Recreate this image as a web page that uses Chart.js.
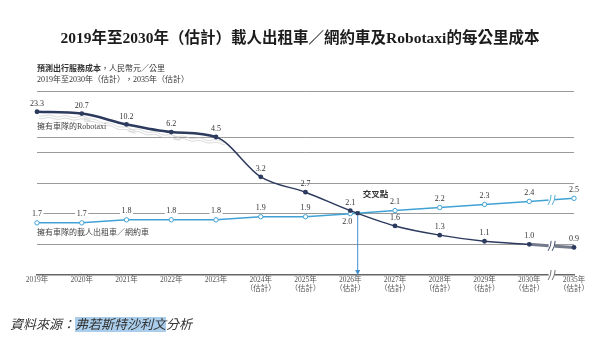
<!DOCTYPE html>
<html>
<head>
<meta charset="utf-8">
<script src="https://cdn.jsdelivr.net/npm/chart.js@4.4.0/dist/chart.umd.min.js"></script>
<style>
body{margin:0;width:600px;height:341px;position:relative;background:#fff;overflow:hidden;font-family:"Liberation Serif","Noto Sans CJK TC",serif;color:#222}
#c{position:absolute;left:0;top:0}
.t{position:absolute;white-space:nowrap;z-index:2}
#title{left:0;width:600px;text-align:center;top:29px;font-size:15.5px;line-height:18px;font-weight:bold;color:#1c1c1c}
#sub1{left:37px;top:64px;font-size:8px;line-height:10px;color:#333}
#sub2{left:37px;top:75px;font-size:8px;line-height:10px;color:#333}
.lab{font-size:8px;line-height:10px;color:#444}
#src{left:10px;top:316px;font-size:13px;line-height:18px;font-style:italic;color:#333}
#src span{background:#a9cdea}
</style>
</head>
<body>
<canvas id="c" width="600" height="341"></canvas>
<div class="t" id="title">2019年至2030年（估計）載人出租車／網約車及Robotaxi的每公里成本</div>
<div class="t" id="sub1"><b>預測出行服務成本</b>，人民幣元／公里</div>
<div class="t" id="sub2">2019年至2030年（估計），2035年（估計）</div>
<div class="t lab" style="left:37px;top:122px">擁有車隊的Robotaxi</div>
<div class="t lab" style="left:37px;top:228px">擁有車隊的載人出租車／網約車</div>
<div class="t" id="src">資料來源：<span>弗若斯特沙利文</span>分析</div>
<script>
const years = ['2019年','2020年','2021年','2022年','2023年',
  ['2024年','（估計）'],['2025年','（估計）'],['2026年','（估計）'],['2027年','（估計）'],
  ['2028年','（估計）'],['2029年','（估計）'],['2030年','（估計）'],['2035年','（估計）']];
const robotaxi = [23.3,20.7,10.2,6.2,4.5,3.2,2.7,2.1,1.6,1.3,1.1,1.0,0.9];
const taxi = [1.7,1.7,1.8,1.8,1.8,1.9,1.9,2.0,2.1,2.2,2.3,2.4,2.5];
const gridValues = [1,2,3,4,4.5,90];

const NAVY='#2c3a5e', BLUE='#41a3d5';
// broken axis: linear up to BREAK, log-compressed above
const BREAK=4.5, LOW=0.75;
class BrokenScale extends Chart.LinearScale{
  getPixelForValue(v){
    const h=this.bottom-this.top;
    const f = v<=BREAK ? LOW*v/BREAK : LOW+(1-LOW)*Math.log(v/BREAK)/Math.log(this.max/BREAK);
    return this.bottom-f*h;
  }
  getValueForPixel(p){
    const f=(this.bottom-p)/(this.bottom-this.top);
    return f<=LOW ? f/LOW*BREAK : BREAK*Math.exp((f-LOW)/(1-LOW)*Math.log(this.max/BREAK));
  }
}
BrokenScale.id='broken';
BrokenScale.defaults=Chart.LinearScale.defaults;
Chart.register(BrokenScale);

function lineY(a,b,x){ return a.y+(b.y-a.y)*(x-a.x)/(b.x-a.x); }
function brk(ctx,x,y,col){
  ctx.save();
  ctx.fillStyle='#fff'; ctx.fillRect(x-3,y-6,6,12);
  ctx.strokeStyle=col; ctx.lineWidth=0.9;
  [-2,2].forEach(d=>{ctx.beginPath();ctx.moveTo(x+d-1.5,y+5);ctx.quadraticCurveTo(x+d+1.5,y,x+d+1.5,y-5);ctx.stroke();});
  ctx.restore();
}
function label(ctx,txt,x,y,bg){
  ctx.font='8px "Liberation Serif"';
  const w=ctx.measureText(txt).width;
  if(bg){ctx.fillStyle='#fff';ctx.fillRect(x-w/2-1.5,y-4.5,w+3,9);}
  ctx.fillStyle='#333';ctx.textAlign='center';ctx.textBaseline='middle';
  ctx.fillText(txt,x,y);
}

const decor={
  id:'decor',
  beforeDatasetsDraw(chart){
    const ctx=chart.ctx, pts=chart.getDatasetMeta(0).data;
    ctx.save(); ctx.strokeStyle='#c4c4c4'; ctx.lineWidth=0.7;
    for(let i=0;i<4;i++){
      const a=pts[i], b=pts[i+1];
      [3.5,6].forEach(off=>{
        ctx.beginPath();
        for(let x=a.x+2;x<=b.x+9;x+=0.5){
          const y=lineY(a,b,x)+off+Math.sin((x-a.x)/2.6)*0.8;
          x===a.x+2?ctx.moveTo(x,y):ctx.lineTo(x,y);
        }
        ctx.stroke();
      });
    }
    ctx.restore();
  },
  afterDatasetsDraw(chart){
    const ctx=chart.ctx, ca=chart.chartArea;
    const r=chart.getDatasetMeta(0).data, t=chart.getDatasetMeta(1).data;
    const n=r.length, xm=(r[n-2].x+r[n-1].x)/2;
    brk(ctx,xm,lineY(t[n-2],t[n-1],xm),BLUE);
    brk(ctx,xm,lineY(r[n-2],r[n-1],xm),NAVY);
    brk(ctx,xm,ca.bottom,'#666');
    // crossing point
    const a=r[7], b=r[8], c=t[7], d=t[8];
    const k=((c.y-a.y))/((b.y-a.y)-(d.y-c.y));
    const xi=a.x+(b.x-a.x)*k, yi=a.y+(b.y-a.y)*k;
    ctx.save();
    ctx.strokeStyle='#3f8fd0'; ctx.lineWidth=1;
    ctx.beginPath(); ctx.moveTo(xi,yi); ctx.lineTo(xi,ca.bottom-3); ctx.stroke();
    ctx.fillStyle='#3f8fd0';
    ctx.beginPath(); ctx.moveTo(xi-2.5,ca.bottom-5); ctx.lineTo(xi+2.5,ca.bottom-5); ctx.lineTo(xi,ca.bottom); ctx.fill();
    ctx.fillStyle=NAVY; ctx.fillRect(xi-2,yi-2,4,4);
    ctx.font='bold 8.5px "Noto Sans CJK TC"'; ctx.fillStyle='#333';
    ctx.textAlign='left'; ctx.textBaseline='middle';
    ctx.fillText('交叉點',xi+5,yi-19);
    ctx.restore();
    r.forEach((p,i)=>label(ctx,robotaxi[i].toFixed(1),p.x,p.y-8,false));
    t.forEach((p,i)=>i===7?label(ctx,taxi[i].toFixed(1),p.x-3,p.y+8,true):label(ctx,taxi[i].toFixed(1),p.x,p.y-8.5,true));
  }
};

new Chart(document.getElementById('c'),{
  type:'line',
  data:{labels:years,datasets:[
    {label:'擁有車隊的Robotaxi',data:robotaxi,borderColor:NAVY,borderWidth:1.5,
     pointRadius:2.4,pointBackgroundColor:NAVY,pointBorderWidth:0,cubicInterpolationMode:'monotone',
     segment:{borderWidth:c=>c.p0DataIndex<4?2.6:(c.p0DataIndex===11?3:1.5),
              borderColor:c=>c.p0DataIndex===11?'#737a8c':NAVY}},
    {label:'擁有車隊的載人出租車／網約車',data:taxi,borderColor:BLUE,borderWidth:1.5,
     pointRadius:2.2,pointBackgroundColor:'#fff',pointBorderColor:BLUE,pointBorderWidth:1,tension:0}
  ]},
  options:{
    responsive:false,animation:false,
    layout:{padding:{left:37,right:26,top:91,bottom:0}},
    plugins:{legend:{display:false},tooltip:{enabled:false}},
    scales:{
      x:{type:'category',offset:false,grid:{display:false,drawTicks:false,tickLength:0},
         border:{display:true,color:'#666',width:1.5},
         ticks:{autoSkip:false,maxRotation:0,padding:1,color:'#555',font:{size:7.5,family:'"Liberation Serif","Noto Sans CJK TC"',lineHeight:1.15}},
         afterFit:s=>{s.height=66;}},
      y:{type:'broken',min:0,max:90,
         afterBuildTicks:s=>{s.ticks=gridValues.map(v=>({value:v}));},
         ticks:{display:false},grid:{color:'#9a9a9a',lineWidth:1,drawTicks:false},
         border:{display:false},afterFit:s=>{s.width=0;}}
    }
  },
  plugins:[decor]
});
</script>
</body>
</html>
